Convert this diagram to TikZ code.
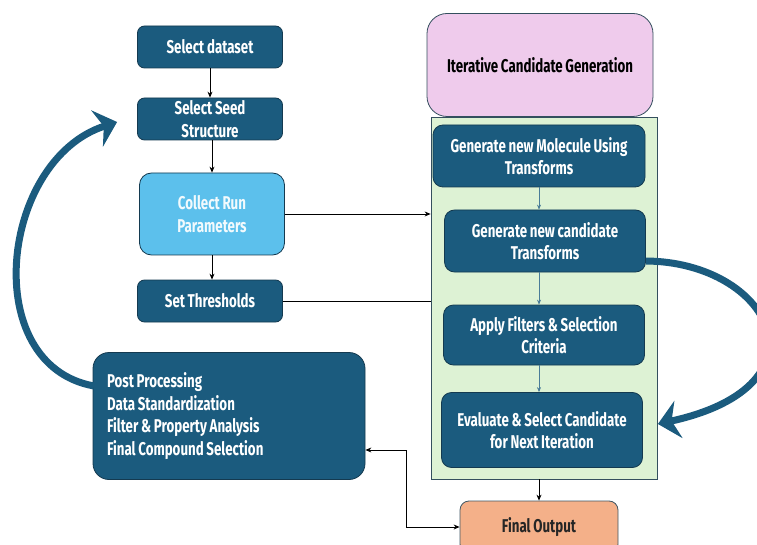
\documentclass[tikz,border=0pt]{standalone}
\usepackage{fontspec}
\setmainfont{Fira Sans}[FakeStretch=0.72, WordSpace=0.85]
\usetikzlibrary{arrows.meta,positioning}

\begin{document}
\begin{tikzpicture}
			\definecolor{boxBlue}{RGB}{27, 91, 126}
			\definecolor{boxEdge}{RGB}{20, 58, 80}
			\definecolor{runBlue}{RGB}{92, 192, 236}
			\definecolor{genPink}{RGB}{239, 203, 236}
			\definecolor{loopGreen}{RGB}{221, 242, 212}
			\definecolor{outSalmon}{RGB}{244, 176, 137}
			\tikzstyle{stage}=[rectangle, rounded corners=7pt, draw=boxEdge, thick, fill=boxBlue, text=white, align=center, font=\bfseries\fontsize{18.5}{22.5}\selectfont, inner sep=2pt]
			\tikzstyle{leftstage}=[stage, minimum width=145pt, minimum height=42pt]
			\tikzstyle{loopstage}=[stage, rounded corners=10pt, minimum width=201pt, minimum height=62pt]
			\tikzstyle{flow}=[-{Stealth[length=6pt, width=5pt]}, thick, black]
			\tikzstyle{innerflow}=[-{Stealth[length=5pt, width=4pt]}, semithick, boxBlue!80]
			\tikzstyle{cycle}=[line width=7pt, color=boxBlue, -{Stealth[length=21pt, width=38pt, inset=7pt]}]

			\useasboundingbox (0pt,0pt) rectangle (757pt,-545pt);

			\node [leftstage, xshift=210pt, yshift=-47pt] (dataset) {Select dataset};
			\node [leftstage, xshift=210pt, yshift=-119pt] (seed) {Select Seed\\Structure};
			\node [leftstage, fill=runBlue, text=white!92!runBlue, rounded corners=12pt, minimum height=82pt, xshift=212pt, yshift=-214pt] (collect) {Collect Run\\Parameters};
			\node [leftstage, xshift=210pt, yshift=-301pt] (thresholds) {Set Thresholds};

			\node [stage, fill=genPink, text=black, rounded corners=20pt, draw=boxEdge!70!gray, minimum width=226pt, minimum height=103pt, xshift=540pt, yshift=-65pt] (generation) {Iterative Candidate Generation};
			\node [rectangle, draw=boxEdge!70!gray, thick, fill=loopGreen, minimum width=226pt, minimum height=362pt, xshift=544pt, yshift=-298pt] (loop) {};

			\node [loopstage, minimum width=212pt, xshift=539pt, yshift=-156pt] (molecule) {Generate new Molecule Using\\Transforms};
			\node [loopstage, xshift=545pt, yshift=-241pt] (candidate) {Generate new candidate\\Transforms};
			\node [loopstage, minimum height=60pt, xshift=544pt, yshift=-335pt] (filters) {Apply Filters \& Selection\\Criteria};
			\node [loopstage, minimum height=75pt, xshift=542pt, yshift=-430pt] (evaluate) {Evaluate \& Select Candidate\\for Next Iteration};

			\node [stage, fill=outSalmon, text=black!85, draw=boxEdge!60!gray, rounded corners=9pt, minimum width=158pt, minimum height=52pt, xshift=539pt, yshift=-527pt] (final) {Final Output};
			\node [stage, rounded corners=16pt, align=flush left, text width=244pt, inner sep=14pt, minimum height=127pt, xshift=229pt, yshift=-416pt] (post) {Post Processing\\Data Standardization\\Filter \& Property Analysis\\Final Compound Selection};

			\coordinate (loopstart) at (94pt,-386pt);
			\coordinate (seedtip) at ([xshift=-20pt, yshift=-3pt]seed.west);
			\coordinate (candstart) at ([yshift=-20pt]candidate.east);
			\coordinate (evaltip) at ([xshift=15pt, yshift=6pt]evaluate.east);
			\coordinate (bend) at (406pt,-527pt);

			\draw [flow] (dataset) -- (seed);
			\draw [flow] (collect.north |- seed.south) -- (collect.north);
			\draw [flow] (collect.south) -- (collect.south |- thresholds.north);
			\draw [flow] (collect.east) -- (collect.east -| loop.west);
			\draw [thick] (thresholds.east) -- (thresholds.east -| loop.west);

			\draw [innerflow] (molecule.south) -- (molecule.south |- candidate.north);
			\draw [innerflow] (molecule.south |- candidate.south) -- (molecule.south |- filters.north);
			\draw [innerflow] (molecule.south |- filters.south) -- (molecule.south |- evaluate.north);

			\draw [flow] (final.north |- loop.south) -- (final.north);
			\draw [flow, {Stealth[length=6pt, width=5pt]}-{Stealth[length=6pt, width=5pt]}] (post.east |- 0,-450pt) -| (bend) -- (final.west);

			\draw [cycle] (loopstart) .. controls (-22pt,-365pt) and (0pt,-160pt) .. (seedtip);
			\draw [cycle] (candstart) .. controls (770pt,-262pt) and (835pt,-385pt) .. (evaltip);
		\end{tikzpicture}
\end{document}
